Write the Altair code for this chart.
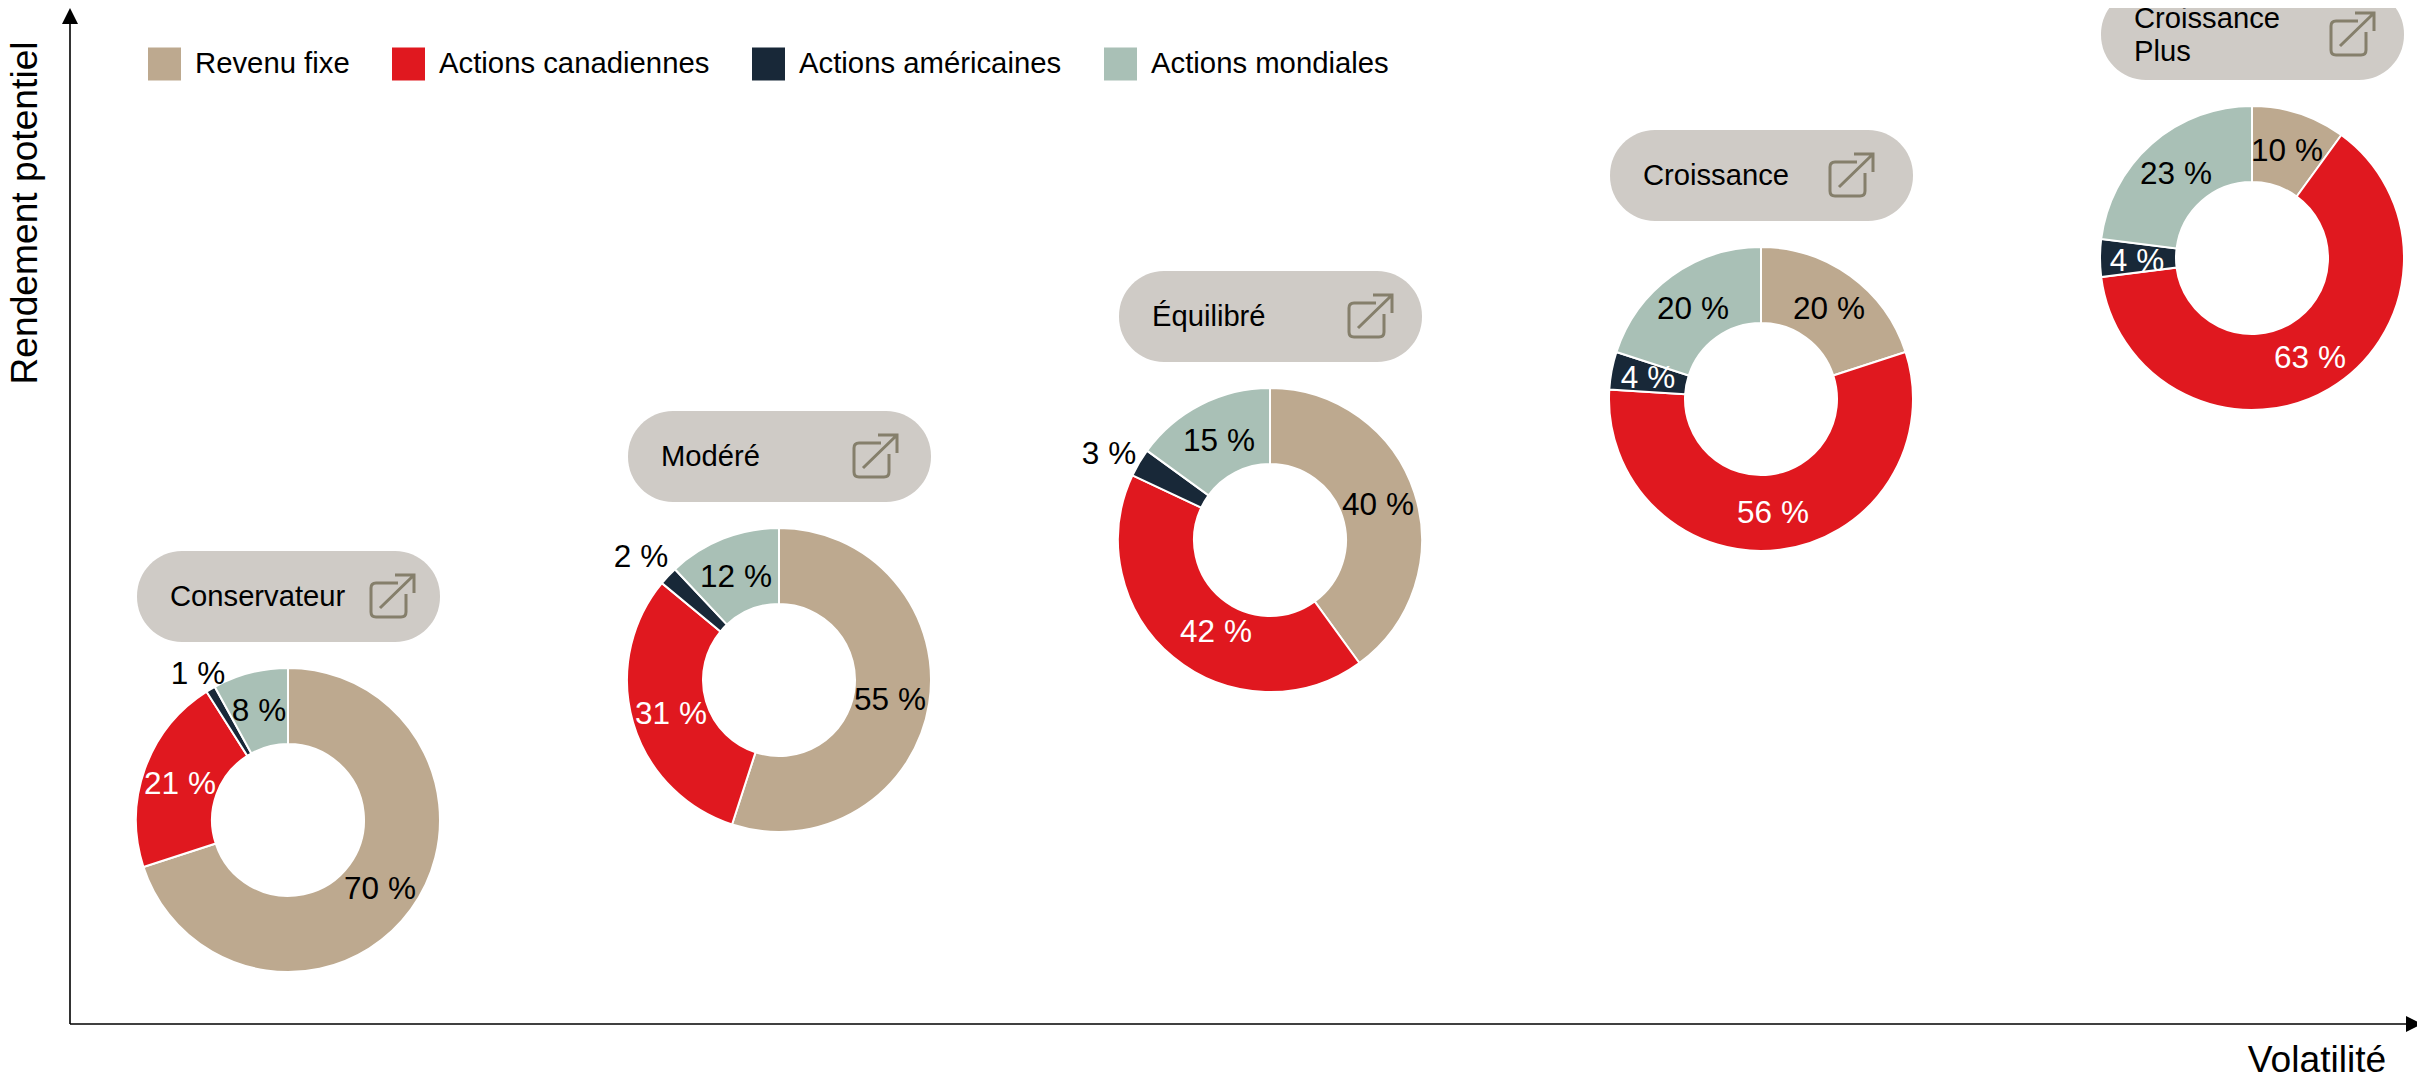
import math
import altair as alt
import pandas as pd

# Portfolio profiles, in chart units measured along volatility (x) and return (y)
profiles = ["Conservateur", "Modéré", "Équilibré", "Croissance", "Croissance Plus"]
volatility = [288, 779, 1270, 1761, 2252]
potential_return = [820, 680, 540, 399, 258]

# Asset classes
assets = ["Revenu fixe", "Actions canadiennes", "Actions américaines", "Actions mondiales"]
asset_colors = ["#BDA98F", "#E0181F", "#182838", "#A9C0B6"]

# Allocation (%) per profile, in the order of `assets`
allocations = [
    [70, 21, 1, 8],
    [55, 31, 2, 12],
    [40, 42, 3, 15],
    [20, 56, 4, 20],
    [10, 63, 4, 23],
]

# Label placement, relative to each donut's centre
label_dx = [
    [92, -108, -90, -29],
    [111, -108, -138, -43],
    [108, -54, -161, -51],
    [68, 12, -113, -68],
    [35, 58, -115, -76],
]
label_dy = [
    [68, -37, -147, -110],
    [19, 33, -124, -104],
    [-36, 91, -87, -100],
    [-91, 113, -22, -91],
    [-108, 99, 2, -85],
]
label_colors = [
    ["#000000", "#FFFFFF", "#000000", "#000000"],
    ["#000000", "#FFFFFF", "#000000", "#000000"],
    ["#000000", "#FFFFFF", "#000000", "#000000"],
    ["#000000", "#FFFFFF", "#FFFFFF", "#000000"],
    ["#000000", "#FFFFFF", "#FFFFFF", "#000000"],
]

# Button captions (one row per text line) and icon offset inside each button
caption_text = ["Conservateur", "Modéré", "Équilibré", "Croissance", "Croissance", "Plus"]
caption_profile = [0, 1, 2, 3, 4, 4]
caption_dy = [-224, -224, -224, -224, -240, -207]
icon_dx = [104, 96, 100, 90, 100]

W, H = 2409, 1073
FONT = "Liberation Sans"
ICON = ("M.06,-.13L-.16,-.13Q-.21,-.13,-.21,-.08L-.21,.16Q-.21,.21,-.16,.21L.09,.21"
        "Q.14,.21,.14,.16L.14,-.02M-.12,.12L.22,-.21M.03,-.21L.22,-.21L.22,-.03")
ARROW_UP = "M-1,1L1,1L0,-1Z"
ARROW_RIGHT = "M-1,-1L-1,1L1,0Z"

slices, labels = [], []
for p, name in enumerate(profiles):
    cum = 0
    for a, asset in enumerate(assets):
        v = allocations[p][a]
        slices.append({"profile": name, "asset": asset, "x": volatility[p], "y": potential_return[p],
                       "start": cum, "end": cum + v, "order": a})
        labels.append({"x": volatility[p] + label_dx[p][a], "y": potential_return[p] + label_dy[p][a],
                       "text": f"{v} %", "color": label_colors[p][a]})
        cum += v

buttons = pd.DataFrame({
    "x": [v - 151 for v in volatility], "x2": [v + 152 for v in volatility],
    "y": [r - 269 for r in potential_return], "y2": [r - 178 for r in potential_return],
    "ix": [v + d for v, d in zip(volatility, icon_dx)], "iy": [r - 224 for r in potential_return],
})
captions = pd.DataFrame({
    "x": [volatility[p] - 118 for p in caption_profile],
    "y": [potential_return[p] + d for p, d in zip(caption_profile, caption_dy)],
    "text": caption_text,
})

xs = alt.Scale(domain=[8, 8 + W], nice=False, zero=False)
ys = alt.Scale(domain=[8 + H, 8], nice=False, zero=False)
X = lambda f="x": alt.X(f"{f}:Q", scale=xs, axis=None)
Y = lambda f="y": alt.Y(f"{f}:Q", scale=ys, axis=None)

arcs = alt.Chart(pd.DataFrame(slices)).mark_arc(
    outerRadius=152, innerRadius=76, stroke="#FFFFFF", strokeWidth=2
).encode(
    x=X(), y=Y(),
    theta=alt.Theta("start:Q", stack=False, scale=alt.Scale(domain=[0, 100], range=[0, 2 * math.pi])),
    theta2=alt.Theta2("end:Q"),
    color=alt.Color("asset:N", scale=alt.Scale(domain=assets, range=asset_colors), legend=alt.Legend(
        orient="none", legendX=140, legendY=39.5, direction="horizontal", columns=4, title=None,
        symbolType="square", symbolSize=1089, symbolStrokeWidth=0, symbolOpacity=1,
        labelFont=FONT, labelFontSize=29.3, labelColor="#000000", labelOffset=14, labelLimit=400,
        columnPadding=42,
    )),
)

value_labels = alt.Chart(pd.DataFrame(labels)).mark_text(
    font=FONT, fontSize=31.5, align="center", baseline="middle", dy=1.5
).encode(x=X(), y=Y(), text="text:N", color=alt.Color("color:N", scale=None, legend=None))

pills = alt.Chart(buttons).mark_rect(color="#CFCBC6", cornerRadius=45).encode(
    x=X(), x2="x2:Q", y=Y(), y2="y2:Q")
icons = alt.Chart(buttons).mark_point(
    shape=ICON, size=40000, filled=False, color="#857F6B", strokeWidth=3, opacity=1
).encode(x=X("ix"), y=Y("iy"))
caption_marks = alt.Chart(captions).mark_text(
    font=FONT, fontSize=29.2, align="left", baseline="middle", color="#000000", dy=1
).encode(x=X(), y=Y(), text="text:N")

# Axes with arrowheads
origin_x, origin_y, tip_x, tip_y = 70, 1024, 2414, 16
y_axis = alt.Chart(pd.DataFrame({"x": [origin_x], "y": [origin_y], "y2": [tip_y]})).mark_rule(
    color="#000000", strokeWidth=1.6).encode(x=X(), y=Y(), y2="y2:Q")
x_axis = alt.Chart(pd.DataFrame({"x": [origin_x], "x2": [tip_x], "y": [origin_y]})).mark_rule(
    color="#000000", strokeWidth=1.6).encode(x=X(), x2="x2:Q", y=Y())
head_y = alt.Chart(pd.DataFrame({"x": [origin_x], "y": [tip_y]})).mark_point(
    shape=ARROW_UP, size=256, filled=True, color="#000000", opacity=1).encode(x=X(), y=Y())
head_x = alt.Chart(pd.DataFrame({"x": [tip_x], "y": [origin_y]})).mark_point(
    shape=ARROW_RIGHT, size=256, filled=True, color="#000000", opacity=1).encode(x=X(), y=Y())

title_y = alt.Chart(pd.DataFrame({"x": [26], "y": [213], "text": ["Rendement potentiel"]})).mark_text(
    font=FONT, fontSize=37.2, angle=270, align="center", baseline="middle", color="#000000"
).encode(x=X(), y=Y(), text="text:N")
title_x = alt.Chart(pd.DataFrame({"x": [2317], "y": [1061], "text": ["Volatilité"]})).mark_text(
    font=FONT, fontSize=37.2, align="center", baseline="middle", color="#000000"
).encode(x=X(), y=Y(), text="text:N")

chart = alt.layer(
    y_axis, x_axis, head_y, head_x, title_y, title_x,
    pills, icons, caption_marks, arcs, value_labels,
).properties(
    width=W, height=H, padding=0, background="#FFFFFF",
    autosize=alt.AutoSizeParams(type="none"),
).configure_view(stroke=None)

chart.save("out.html", embed_options={"renderer": "svg", "actions": False})
